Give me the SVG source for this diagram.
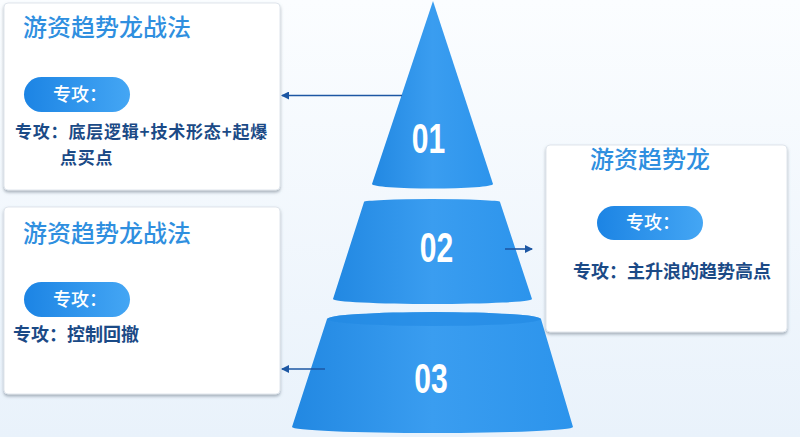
<svg xmlns="http://www.w3.org/2000/svg" width="800" height="437" viewBox="0 0 800 437">
<defs>
<linearGradient id="bg" x1="0" y1="0" x2="0" y2="1">
<stop offset="0" stop-color="#fbfdff"/>
<stop offset="1" stop-color="#e9f2fb"/>
</linearGradient>
<linearGradient id="cone" x1="0" y1="0" x2="1" y2="0">
<stop offset="0" stop-color="#2288e2"/>
<stop offset="0.5" stop-color="#3a9df0"/>
<stop offset="1" stop-color="#2c94ec"/>
</linearGradient>
<linearGradient id="pill" x1="0" y1="0" x2="1" y2="0">
<stop offset="0" stop-color="#1c84e4"/>
<stop offset="1" stop-color="#44a6f4"/>
</linearGradient>
<filter id="sh" x="-5%" y="-5%" width="110%" height="115%">
<feDropShadow dx="0" dy="2" stdDeviation="1.5" flood-color="#6b7785" flood-opacity="0.55"/>
</filter>
<marker id="ah" viewBox="0 0 8 8" refX="7" refY="4" markerWidth="5" markerHeight="5" orient="auto">
<path d="M0,0 L8,4 L0,8 Z" fill="#1d57a3"/>
</marker>
<style>
.box{fill:#ffffff;stroke:#dfe5ec;stroke-width:1;filter:url(#sh)}
.title{font-family:"Noto Sans CJK SC",sans-serif;font-size:24px;fill:#2f8fdf;font-weight:500}
.pilltxt{font-family:"Noto Sans CJK SC",sans-serif;font-size:18px;fill:#ffffff;font-weight:500}
.desc{font-family:"Noto Sans CJK SC",sans-serif;font-size:18px;fill:#1b4a86;font-weight:700}
.desc2{font-family:"Noto Sans CJK SC",sans-serif;font-size:17px;letter-spacing:0.8px;fill:#1b4a86;font-weight:700}
.num{font-family:"Liberation Sans",sans-serif;font-size:43px;font-weight:700;fill:#ffffff;text-anchor:middle}
.conn{stroke:#1d57a3;stroke-width:1.6;fill:none;marker-end:url(#ah)}
.cone{fill:url(#cone)}
</style>
</defs>
<rect x="0" y="0" width="800" height="437" fill="url(#bg)"/>

<g id="cone1">
<path class="cone" d="M433,1 L372,184 A60.5,4.5 0 0 0 493,184 Z"/>
<g transform="translate(428.5,153) scale(0.7,1)"><text class="num" x="0" y="0">01</text></g>
</g>
<g id="cone2">
<path class="cone" d="M364,202 A68,3 0 0 1 500,202 L532,299 A99.5,5 0 0 1 333,299 Z"/>
<g transform="translate(436.5,262) scale(0.7,1)"><text class="num" x="0" y="0">02</text></g>
</g>
<g id="cone3">
<path class="cone" d="M327,319 A107,7 0 0 1 541,319 L573,427 A140.5,6 0 0 1 292,427 Z"/>
<ellipse cx="434" cy="319" rx="107" ry="7" fill="#2288e2" opacity="0.6"/>
<g transform="translate(431,393) scale(0.7,1)"><text class="num" x="0" y="0">03</text></g>
</g>

<g id="box1">
<rect class="box" x="4" y="3" width="276" height="187" rx="4"/>
<text class="title" x="23" y="36">游资趋势龙战法</text>
<rect x="24" y="77" width="106" height="35" rx="17.5" fill="url(#pill)"/>
<text class="pilltxt" x="53" y="101">专攻：</text>
<text class="desc2" x="15" y="138">专攻：底层逻辑+技术形态+起爆</text>
<text class="desc2" x="60" y="163.5">点买点</text>
</g>

<g id="box2">
<rect class="box" x="4" y="207" width="276" height="187" rx="4"/>
<text class="title" x="23" y="242">游资趋势龙战法</text>
<rect x="24" y="282" width="106" height="35" rx="17.5" fill="url(#pill)"/>
<text class="pilltxt" x="53" y="306">专攻：</text>
<text class="desc" x="13" y="341">专攻：控制回撤</text>
</g>

<g id="box3">
<rect class="box" x="546" y="145" width="241" height="187" rx="4"/>
<text class="title" x="590" y="168">游资趋势龙</text>
<rect x="597" y="206" width="106" height="34" rx="17" fill="url(#pill)"/>
<text class="pilltxt" x="626" y="229">专攻：</text>
<text class="desc" x="573" y="278">专攻：主升浪的趋势高点</text>
</g>

<g id="connectors">
<line class="conn" x1="402" y1="95.5" x2="282" y2="95.5"/>
<line class="conn" x1="505" y1="249" x2="532" y2="249"/>
<line class="conn" x1="325" y1="369" x2="282" y2="369"/>
</g>
</svg>
